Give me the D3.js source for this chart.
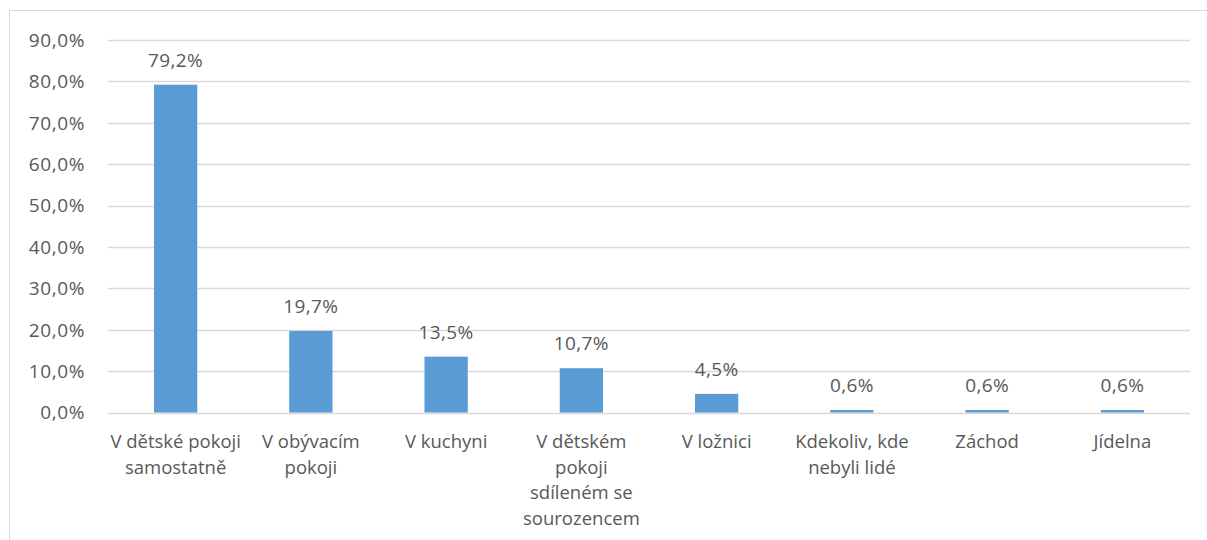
<!DOCTYPE html>
<html>
<head>
<meta charset="utf-8">
<script src="https://cdn.jsdelivr.net/npm/d3@7"></script>
<style>
  body { margin: 0; background: #fff; }
  svg text { font-family: "Open Sans", sans-serif; fill: #595959; }
</style>
</head>
<body>
<div id="chart"></div>
<script>
// categories (line breaks as in the original axis labels)
var categories = [
  "V dětské pokoji\nsamostatně",
  "V obývacím\npokoji",
  "V kuchyni",
  "V dětském\npokoji\nsdíleném se\nsourozencem",
  "V ložnici",
  "Kdekoliv, kde\nnebyli lidé",
  "Záchod",
  "Jídelna"
];
var values = [79.2, 19.7, 13.5, 10.7, 4.5, 0.6, 0.6, 0.6];
var yTicks = [0, 10, 20, 30, 40, 50, 60, 70, 80, 90];

var svgWidth = 1207, svgHeight = 540;
var margin = { top: 40, left: 108, right: 17 };
var plotBottom = 412.5;
var fontSize = "18.5px";

var svg = d3.select("#chart").append("svg")
  .attr("width", svgWidth)
  .attr("height", svgHeight);

// chart frame
svg.append("rect")
  .attr("x", 9.5).attr("y", 10.5)
  .attr("width", 1220).attr("height", 560)
  .attr("fill", "none")
  .attr("stroke", "#d9d9d9")
  .attr("stroke-width", 1);

var x = d3.scaleBand()
  .domain(categories)
  .range([margin.left, svgWidth - margin.right])
  .paddingInner(0.68)
  .paddingOuter(0.34);

var y = d3.scaleLinear()
  .domain([0, 90])
  .range([plotBottom, margin.top]);

var fmt = function (v) { return d3.format(".1f")(v).replace(".", ","); };

// gridlines
svg.append("g")
  .selectAll("line")
  .data(yTicks)
  .enter().append("line")
  .attr("x1", margin.left)
  .attr("x2", svgWidth - margin.right)
  .attr("y1", function (d) { return Math.round(y(d)) + 0.5; })
  .attr("y2", function (d) { return Math.round(y(d)) + 0.5; })
  .attr("stroke", "#d9d9d9")
  .attr("stroke-width", 1.3);

// y tick labels
svg.append("g")
  .selectAll("text")
  .data(yTicks)
  .enter().append("text")
  .attr("x", 85)
  .attr("y", function (d) { return y(d); })
  .attr("dy", "0.36em")
  .attr("text-anchor", "end")
  .attr("font-size", "19px")
  .attr("letter-spacing", "0.6px")
  .text(function (d) { return fmt(d) + "%"; });

// bars
svg.append("g")
  .selectAll("rect")
  .data(values)
  .enter().append("rect")
  .attr("x", function (d, i) { return x(categories[i]); })
  .attr("width", x.bandwidth())
  .attr("y", function (d) { return y(d); })
  .attr("height", function (d) { return plotBottom - y(d); })
  .attr("fill", "#5b9bd5");

// value labels
svg.append("g")
  .selectAll("text")
  .data(values)
  .enter().append("text")
  .attr("x", function (d, i) { return x(categories[i]) + x.bandwidth() / 2; })
  .attr("y", function (d) { return y(d) - 18; })
  .attr("text-anchor", "middle")
  .attr("font-size", "19px")
  .attr("letter-spacing", "0.4px")
  .text(function (d) { return fmt(d) + "%"; });

// category labels
var cat = svg.append("g")
  .selectAll("text")
  .data(categories)
  .enter().append("text")
  .attr("text-anchor", "middle")
  .attr("font-size", fontSize)
  .attr("transform", function (d) { return "translate(" + (x(d) + x.bandwidth() / 2) + ",448)"; });

cat.selectAll("tspan")
  .data(function (d) { return d.split("\n"); })
  .enter().append("tspan")
  .attr("x", 0)
  .attr("y", function (d, i) { return i * 25.5; })
  .text(function (d) { return d; });
</script>
</body>
</html>
